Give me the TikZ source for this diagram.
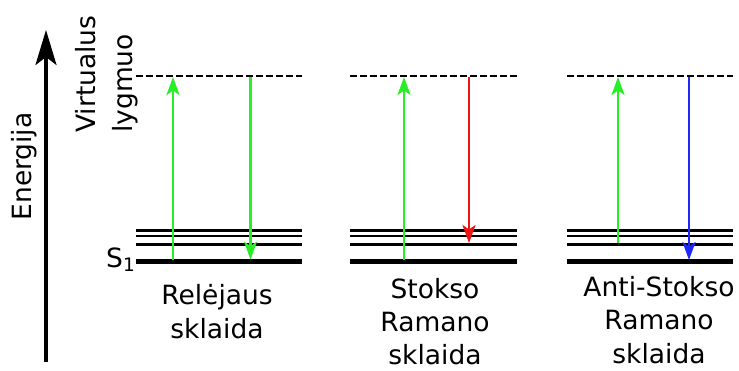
\documentclass[tikz,border=0pt]{standalone}
\usepackage{fontspec}
\setmainfont{DejaVu Sans}
\usetikzlibrary{arrows.meta}

\definecolor{photongreen}{RGB}{40,238,40}
\definecolor{photonred}{RGB}{238,20,20}
\definecolor{photonblue}{RGB}{30,40,250}

\tikzset{
  lbl/.style={font=\fontsize{26.5}{33.3}\selectfont, inner sep=0pt, align=center},
  levelthin/.style={line width=2.4pt},
  levelmid/.style={line width=3pt},
  levelground/.style={line width=4.6pt},
  virtual/.style={line width=2.2pt, dash pattern=on 7pt off 3pt},
  photon/.style={line width=2.6pt, -{Stealth[length=18pt,width=13pt,inset=4.5pt]}},
  axisarrow/.style={line width=3.2pt, -{Stealth[length=35pt,width=21pt,inset=8pt]}}
}

\begin{document}
\begin{tikzpicture}[x=1pt,y=-1pt]
\useasboundingbox (0,0) rectangle (739,370);

% level end points for the three scattering schemes
\foreach \g/\xa/\xb in {1/136/302, 2/350/517, 3/567/733} {
  \foreach \l/\y in {v/75.7, a/230.5, b/235.8, c/244, s/261.7} {
    \coordinate (g\g-\l-w) at (\xa,\y);
    \coordinate (g\g-\l-e) at (\xb,\y);
  }
}

% energy levels
\foreach \g in {1,2,3} {
  \draw[virtual] (g\g-v-w) -- (g\g-v-e);
  \draw[levelthin] (g\g-a-w) -- (g\g-a-e);
  \draw[levelthin] (g\g-b-w) -- (g\g-b-e);
  \draw[levelmid] (g\g-c-w) -- (g\g-c-e);
  \draw[levelground] (g\g-s-w) -- (g\g-s-e);
}

% transition end points
\coordinate (r-up-a) at (173,259.6);   \coordinate (r-up-b) at (173,77);
\coordinate (r-dn-a) at (250.5,77);    \coordinate (r-dn-b) at (250.5,259.6);
\coordinate (s-up-a) at (404,259.6);   \coordinate (s-up-b) at (404,77);
\coordinate (s-dn-a) at (469,77);      \coordinate (s-dn-b) at (469,243);
\coordinate (a-up-a) at (618,242.6);   \coordinate (a-up-b) at (618,77);
\coordinate (a-dn-a) at (689,77);      \coordinate (a-dn-b) at (689,260);

% transitions
\draw[photon, photongreen] (r-up-a) -- (r-up-b);
\draw[photon, photongreen] (r-dn-a) -- (r-dn-b);
\draw[photon, photongreen] (s-up-a) -- (s-up-b);
\draw[photon, photonred]   (s-dn-a) -- (s-dn-b);
\draw[photon, photongreen] (a-up-a) -- (a-up-b);
\draw[photon, photonblue]  (a-dn-a) -- (a-dn-b);

% energy axis
\coordinate (ax-a) at (46,362);
\coordinate (ax-b) at (46,30);
\draw[axisarrow] (ax-a) -- (ax-b);
\node[lbl, rotate=90, anchor=base] (energy) at (31,166.5) {Energija};

% level labels (the base anchor sits on the last line)
\node[lbl, rotate=90, anchor=base west, align=left,
      font=\fontsize{26.5}{37}\selectfont] (virtlbl) at (132.5,133) {Virtualus\\lygmuo};
\node[lbl, anchor=base west] (s1lbl) at (106,267) {S\textsubscript{1}};

% scheme captions
\node[lbl, anchor=base] (rayleigh) at (217,338) {Relėjaus\\sklaida};
\node[lbl, anchor=base] (stokes) at (435,364.6) {Stokso\\Ramano\\sklaida};
\node[lbl, anchor=base] (antistokes) at (659,363) {Anti-Stokso\\Ramano\\sklaida};
\end{tikzpicture}
\end{document}
